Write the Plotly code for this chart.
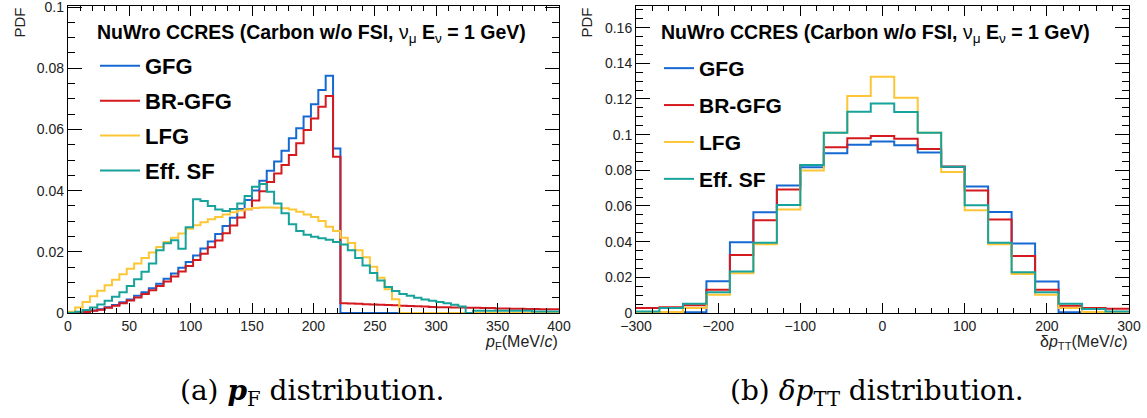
import numpy as np
import plotly.graph_objects as go

# ---------------- data ----------------
# p_F histogram: 6 MeV/c bins starting at 0
PF_BIN_WIDTH = 6.0
pf_gfg = [0.0000, 0.0001, 0.0004, 0.0008, 0.0012, 0.0019, 0.0026, 0.0035, 0.0044, 0.0056,
          0.0068, 0.0081, 0.0096, 0.0112, 0.0129, 0.0148, 0.0167, 0.0188, 0.0211, 0.0234,
          0.0258, 0.0284, 0.0311, 0.0340, 0.0369, 0.0400, 0.0432, 0.0465, 0.0495, 0.0530,
          0.0571, 0.0604, 0.0642, 0.0682, 0.0729, 0.0775, 0.0538] + [0.0] * 30
pf_brgfg = [0.0000, 0.0001, 0.0003, 0.0007, 0.0011, 0.0017, 0.0024, 0.0032, 0.0041, 0.0051,
            0.0062, 0.0074, 0.0088, 0.0103, 0.0119, 0.0136, 0.0154, 0.0173, 0.0194, 0.0215,
            0.0237, 0.0261, 0.0286, 0.0312, 0.0339, 0.0368, 0.0398, 0.0428, 0.0456, 0.0484,
            0.0516, 0.0555, 0.0598, 0.0636, 0.0674, 0.0709, 0.0511,
            0.0032, 0.0031, 0.0030, 0.0029, 0.0028, 0.0027, 0.0026, 0.0025, 0.0024, 0.0023,
            0.0022, 0.0021, 0.0020, 0.0019, 0.0019, 0.0018, 0.0018, 0.0017, 0.0017, 0.0016,
            0.0016, 0.0015, 0.0015, 0.0014, 0.0014, 0.0013, 0.0013, 0.0012, 0.0012, 0.0012]
pf_lfg = [0.0004, 0.0018, 0.0036, 0.0055, 0.0073, 0.0091, 0.0109, 0.0127, 0.0145, 0.0162,
          0.0180, 0.0198, 0.0216, 0.0232, 0.0246, 0.0260, 0.0275, 0.0287, 0.0297, 0.0306,
          0.0314, 0.0322, 0.0329, 0.0335, 0.0340, 0.0343, 0.0345, 0.0345, 0.0344, 0.0342,
          0.0338, 0.0331, 0.0322, 0.0314, 0.0301, 0.0282, 0.0268, 0.0246, 0.0229, 0.0205,
          0.0182, 0.0151, 0.0115, 0.0078, 0.0045] + [0.0] * 22
pf_effsf = [0.0001, 0.0004, 0.0010, 0.0018, 0.0028, 0.0040, 0.0053, 0.0068, 0.0088, 0.0110,
            0.0135, 0.0162, 0.0205, 0.0228, 0.0238, 0.0210, 0.0280, 0.0372, 0.0366, 0.0350,
            0.0338, 0.0333, 0.0340, 0.0358, 0.0382, 0.0413, 0.0422, 0.0396, 0.0358, 0.0326,
            0.0290, 0.0268, 0.0256, 0.0249, 0.0244, 0.0239, 0.0232, 0.0224, 0.0205, 0.0180,
            0.0155, 0.0131, 0.0106, 0.0085, 0.0072, 0.0062, 0.0056, 0.0050, 0.0044, 0.0040,
            0.0036, 0.0032, 0.0027, 0.0021, 0.0000,
            0.0007, 0.0007, 0.0007, 0.0007, 0.0007, 0.0007, 0.0007, 0.0007,
            0.0005, 0.0005, 0.0005, 0.0005]

# delta p_TT histogram: 21 bins over [-300, 300] MeV/c
DPTT_RANGE = (-300.0, 300.0)
dptt_gfg = [0.0000, 0.0000, 0.0004, 0.0178, 0.0396, 0.0565, 0.0715, 0.0817, 0.0895, 0.0943, 0.0962,
            0.0940, 0.0900, 0.0818, 0.0709, 0.0566, 0.0390, 0.0176, 0.0004, 0.0000, 0.0000]
dptt_brgfg = [0.0028, 0.0032, 0.0043, 0.0130, 0.0325, 0.0520, 0.0693, 0.0830, 0.0929, 0.0980, 0.0992,
              0.0977, 0.0919, 0.0822, 0.0687, 0.0524, 0.0319, 0.0130, 0.0041, 0.0028, 0.0024]
dptt_lfg = [0.0000, 0.0006, 0.0028, 0.0102, 0.0223, 0.0386, 0.0580, 0.0799, 0.1010, 0.1216, 0.1324,
            0.1207, 0.1010, 0.0790, 0.0576, 0.0386, 0.0219, 0.0102, 0.0028, 0.0006, 0.0000]
dptt_effsf = [0.0009, 0.0028, 0.0052, 0.0117, 0.0232, 0.0394, 0.0605, 0.0830, 0.1010, 0.1129, 0.1174,
              0.1127, 0.1010, 0.0820, 0.0604, 0.0394, 0.0228, 0.0117, 0.0052, 0.0022, 0.0009]

model_names = ["GFG", "BR-GFG", "LFG", "Eff. SF"]
model_colors = ["#1668d2", "#d51a1f", "#fcc636", "#17a39b"]

# ---------------- helpers ----------------
def step_xy(edges, values):
    """Outline of a histogram drawn as a horizontal-then-vertical step line."""
    x = list(edges)
    y = list(values) + [values[-1]]
    return x, y


pf_edges = np.arange(len(pf_gfg) + 1) * PF_BIN_WIDTH
dptt_edges = np.linspace(DPTT_RANGE[0], DPTT_RANGE[1], len(dptt_gfg) + 1)

W, H = 1147, 418

def px(xp):
    return xp / W

def py(yp):
    return 1 - yp / H

fig = go.Figure()

for i, (name, vals) in enumerate(zip(model_names, [pf_gfg, pf_brgfg, pf_lfg, pf_effsf])):
    x, y = step_xy(pf_edges, vals)
    fig.add_trace(go.Scatter(x=x, y=y, mode="lines", line=dict(color=model_colors[i], width=2, shape="hv"),
                             name=f"<b>{name}</b>", legendgroup=f"a{i}", legend="legend",
                             xaxis="x", yaxis="y"))

for i, (name, vals) in enumerate(zip(model_names, [dptt_gfg, dptt_brgfg, dptt_lfg, dptt_effsf])):
    x, y = step_xy(dptt_edges, vals)
    fig.add_trace(go.Scatter(x=x, y=y, mode="lines", line=dict(color=model_colors[i], width=2, shape="hv"),
                             name=f"<b>{name}</b>", legendgroup=f"b{i}", legend="legend2",
                             xaxis="x2", yaxis="y2"))

tick_font = dict(family="Liberation Sans, Arial, sans-serif", size=14, color="#222")
axis_common = dict(showline=True, linecolor="black", linewidth=1, mirror="allticks",
                   ticks="inside", tickcolor="black", tickwidth=1, showgrid=False,
                   zeroline=False, tickfont=tick_font, automargin=False,
                   ticklabeloverflow="allow")

y_dom = [py(313), py(5.5)]

fig.update_layout(
    width=W, height=H,
    margin=dict(l=0, r=0, t=0, b=0, autoexpand=False),
    paper_bgcolor="white", plot_bgcolor="white",
    xaxis=dict(domain=[px(67.8), px(559)], range=[0, 400], dtick=50, ticklen=10,
               minor=dict(dtick=10, ticklen=5, ticks="inside", tickcolor="black"),
               anchor="y", **axis_common),
    yaxis=dict(domain=y_dom, range=[0, 0.1005], dtick=0.02, ticklen=14,
               minor=dict(dtick=0.005, ticklen=7, ticks="inside", tickcolor="black"),
               anchor="x", **axis_common),
    xaxis2=dict(domain=[px(636), px(1129)], range=[-300, 300], dtick=100, ticklen=10,
                minor=dict(dtick=20, ticklen=5, ticks="inside", tickcolor="black"),
                anchor="y2", **axis_common),
    yaxis2=dict(domain=y_dom, range=[0, 0.1724], dtick=0.02, ticklen=14,
                minor=dict(dtick=0.005, ticklen=7, ticks="inside", tickcolor="black"),
                anchor="x2", **axis_common),
    legend=dict(x=px(95), y=py(45), xanchor="left", yanchor="top",
                font=dict(family="Liberation Sans, Arial, sans-serif", size=22, color="black"),
                bgcolor="rgba(0,0,0,0)", tracegroupgap=3.3, itemwidth=40),
    legend2=dict(x=px(659), y=py(48), xanchor="left", yanchor="top",
                 font=dict(family="Liberation Sans, Arial, sans-serif", size=21, color="black"),
                 bgcolor="rgba(0,0,0,0)", tracegroupgap=6.6, itemwidth=30),
    showlegend=True,
)

label_font = dict(family="Liberation Sans, Arial, sans-serif", size=19.5, color="black")
header = "<b>NuWro CCRES (Carbon w/o FSI, </b>ν<sub>μ</sub><b> E</b><sub>ν</sub><b> = 1 GeV)</b>"
ann = [
    dict(x=px(95), y=py(33), text=header, xanchor="left", yanchor="middle", font=label_font),
    dict(x=px(659), y=py(33), text=header, xanchor="left", yanchor="middle", font=label_font),
    dict(x=px(18.5), y=py(23), text="PDF", textangle=-90, xanchor="center", yanchor="middle",
         font=dict(family="Liberation Sans, Arial, sans-serif", size=15, color="#222")),
    dict(x=px(585.5), y=py(23), text="PDF", textangle=-90, xanchor="center", yanchor="middle",
         font=dict(family="Liberation Sans, Arial, sans-serif", size=15, color="#222")),
    dict(x=px(560), y=py(342), text="<i>p</i><sub>F</sub>(MeV/<i>c</i>)", xanchor="right",
         yanchor="middle", font=dict(family="Liberation Sans, Arial, sans-serif", size=16, color="#222")),
    dict(x=px(1129), y=py(342), text="δ<i>p</i><sub>TT</sub>(MeV/<i>c</i>)", xanchor="right",
         yanchor="middle", font=dict(family="Liberation Sans, Arial, sans-serif", size=16, color="#222")),
    dict(x=px(312), y=py(392), text="(a) <b><i>p</i></b><sub>F</sub> distribution.", xanchor="center",
         yanchor="middle", font=dict(family="DejaVu Serif, serif", size=28, color="black")),
    dict(x=px(877), y=py(392), text="(b) <i>δp</i><sub>TT</sub> distribution.", xanchor="center",
         yanchor="middle", font=dict(family="DejaVu Serif, serif", size=28, color="black")),
]
for a in ann:
    a.setdefault("xref", "paper")
    a.setdefault("yref", "paper")
    a.setdefault("showarrow", False)
fig.update_layout(annotations=ann)

fig.write_html("out.html")
